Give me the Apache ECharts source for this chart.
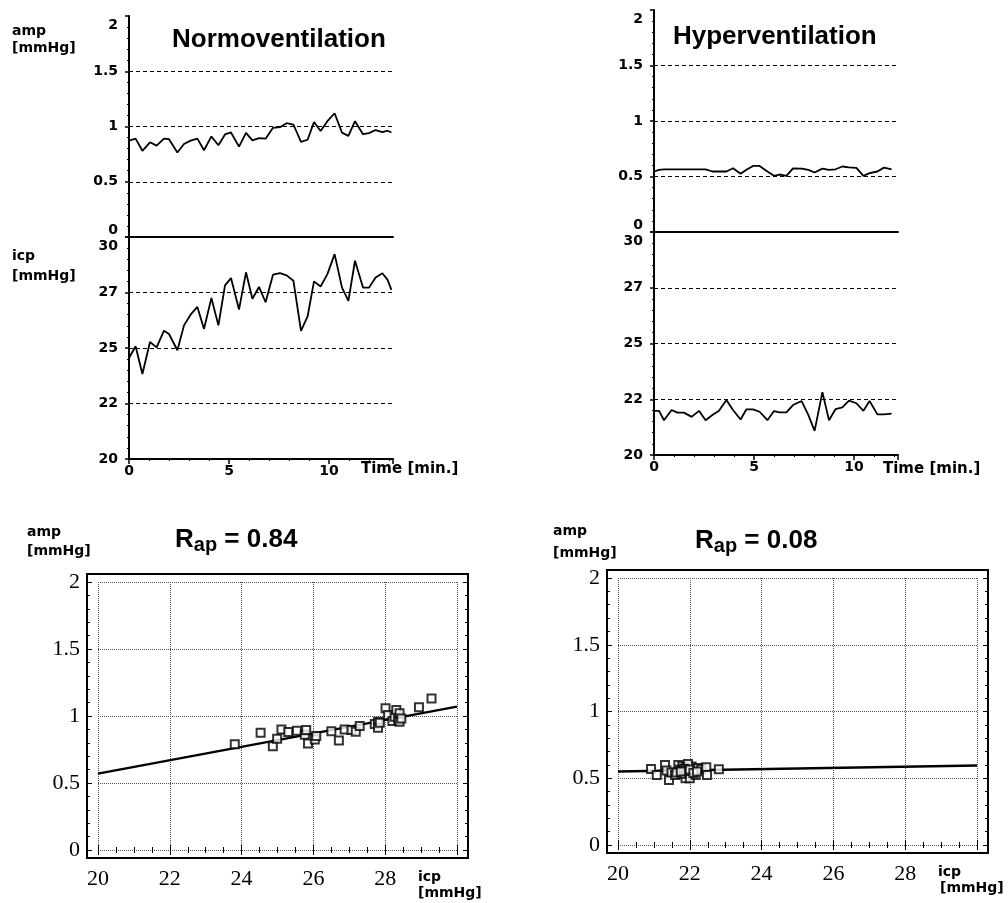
<!DOCTYPE html>
<html>
<head>
<meta charset="utf-8">
<script src="https://cdn.jsdelivr.net/npm/echarts@6/dist/echarts.min.js"></script>
<style>
  html, body { margin: 0; padding: 0; background: #fff; }
  #chart { width: 1008px; height: 903px; }
</style>
</head>
<body>
<div id="chart"></div>
<script>
// traces (time in min.)
const normoTime = [0, 0.33, 0.67, 1.05, 1.38, 1.75, 2.0, 2.42, 2.75, 3.08, 3.42, 3.75, 4.12, 4.47, 4.8, 5.1, 5.5, 5.85, 6.17, 6.5,
  6.83, 7.2, 7.55, 7.88, 8.22, 8.6, 8.93, 9.25, 9.58, 9.92, 10.28, 10.65, 10.97, 11.3, 11.7, 12.0, 12.33, 12.67, 12.93, 13.12];
const normoAmp = [0.872, 0.89, 0.78, 0.857, 0.827, 0.89, 0.885, 0.765, 0.842, 0.872, 0.89, 0.785, 0.91, 0.83, 0.928, 0.946, 0.818, 0.942, 0.875, 0.895,
  0.89, 0.988, 0.994, 1.03, 1.018, 0.86, 0.88, 1.04, 0.96, 1.048, 1.12, 0.945, 0.915, 1.048, 0.93, 0.94, 0.968, 0.95, 0.962, 0.946];
const normoIcp = [24.55, 25.08, 23.83, 25.27, 25.03, 25.78, 25.63, 24.9, 26.02, 26.5, 26.85, 25.86, 27.25, 26.02, 27.82, 28.15, 26.73, 28.41, 27.22, 27.75,
  27.06, 28.3, 28.37, 28.27, 28.03, 25.77, 26.42, 28.0, 27.77, 28.33, 29.23, 27.72, 27.12, 28.93, 27.72, 27.72, 28.18, 28.37, 28.07, 27.62];

const hyperTime = [0, 0.25, 0.5, 0.88, 1.17, 1.5, 1.88, 2.25, 2.58, 2.92, 3.25, 3.62, 3.95, 4.33, 4.62, 4.95, 5.28, 5.67, 6.0, 6.28,
  6.62, 6.95, 7.38, 7.72, 8.03, 8.42, 8.75, 9.08, 9.42, 9.75, 10.12, 10.47, 10.78, 11.17, 11.5, 11.88];
const hyperAmp = [0.545, 0.56, 0.565, 0.565, 0.565, 0.565, 0.565, 0.565, 0.565, 0.545, 0.545, 0.545, 0.574, 0.524, 0.56, 0.595, 0.595, 0.545, 0.506, 0.518,
  0.506, 0.574, 0.571, 0.56, 0.536, 0.571, 0.56, 0.565, 0.59, 0.583, 0.577, 0.506, 0.53, 0.545, 0.58, 0.565];
const hyperIcp = [21.98, 21.98, 21.56, 22.02, 21.9, 21.9, 21.71, 21.98, 21.56, 21.79, 21.98, 22.47, 22.02, 21.59, 22.05, 22.05, 21.94, 21.56, 21.97, 21.91,
  21.91, 22.24, 22.42, 21.79, 21.08, 22.82, 21.56, 22.06, 22.14, 22.44, 22.32, 21.98, 22.42, 21.82, 21.82, 21.86];

// amp vs icp scatter
const normoScatterIcp = [23.81, 24.53, 24.87, 24.99, 25.11, 25.30, 25.54, 25.76, 25.80, 25.85, 26.04, 26.08, 26.50, 26.71, 26.87, 27.06, 27.18,
  27.29, 27.71, 27.80, 27.80, 27.85, 28.01, 28.08, 28.20, 28.26, 28.31, 28.36, 28.40, 28.40, 28.45, 28.94, 29.29];
const normoScatterAmp = [0.79, 0.875, 0.775, 0.83, 0.90, 0.88, 0.89, 0.86, 0.895, 0.795, 0.825, 0.85, 0.887, 0.817, 0.90, 0.895, 0.883,
  0.925, 0.94, 0.957, 0.912, 0.95, 1.057, 1.007, 0.962, 0.995, 1.045, 0.97, 0.957, 1.02, 0.982, 1.065, 1.13];
const hyperScatterIcp = [20.92, 21.08, 21.31, 21.35, 21.42, 21.49, 21.59, 21.68, 21.72, 21.79, 21.83, 21.88, 21.91, 21.95, 22.0, 22.05, 22.09,
  22.16, 22.23, 22.32, 22.46, 22.48, 22.81, 21.77, 21.63, 21.95, 21.82, 21.85, 21.9, 22.0, 21.75, 22.1, 22.2];
const hyperScatterAmp = [0.57, 0.525, 0.60, 0.558, 0.487, 0.543, 0.525, 0.60, 0.563, 0.588, 0.55, 0.50, 0.576, 0.538, 0.50, 0.588, 0.558,
  0.525, 0.576, 0.568, 0.583, 0.525, 0.568, 0.533, 0.543, 0.606, 0.568, 0.57, 0.555, 0.565, 0.55, 0.54, 0.55];

// regression lines
const fitIcp = [20, 30];
const normoFitAmp = [0.57, 1.07];
const hyperFitAmp = [0.55, 0.595];

// tick labels
const timeTickLabels = ['0', '5', '10'];
const ampTickLabels = ['0', '0.5', '1', '1.5', '2'];
const icpTickLabels = ['20', '22', '25', '27', '30'];
const scatterIcpLabels = ['20', '22', '24', '26', '28'];

const zip = (xs, ys) => xs.map((x, i) => [x, ys[i]]);

const labelFont = { fontFamily: 'DejaVu Sans', fontWeight: 'bold', fontSize: 14, color: '#000' };
const shiftRich = {
  up: { ...labelFont, padding: [0, 0, 14, 0] },
  dn: { ...labelFont, padding: [18, 0, 0, 0] },
};

function timeAxis(gridIndex, max, withLabels) {
  return {
    type: 'value', gridIndex, min: 0, max, interval: 5,
    axisLine: { show: true, onZero: false, lineStyle: { color: '#000', width: 2 } },
    axisTick: { show: withLabels, length: 5, lineStyle: { color: '#000', width: 1.5 } },
    minorTick: { show: withLabels, splitNumber: 5, length: 2, lineStyle: { color: '#000' } },
    splitLine: { show: false },
    axisLabel: {
      show: withLabels, margin: 5, ...labelFont, showMinLabel: true, showMaxLabel: true,
      formatter: (v, i) => timeTickLabels[i] || '',
    },
  };
}

function valueAxis(gridIndex, min, max, interval, labels) {
  return {
    type: 'value', gridIndex, min, max, interval,
    axisLine: { show: true, onZero: false, lineStyle: { color: '#000', width: 2 } },
    axisTick: { show: true, length: 4, lineStyle: { color: '#000', width: 1.5 } },
    minorTick: { show: true, splitNumber: 5, length: 2, lineStyle: { color: '#000' } },
    splitLine: { show: true, showMinLine: false, showMaxLine: false, lineStyle: { color: '#000', type: [4, 3], width: 1 } },
    axisLabel: {
      margin: 11, ...labelFont, showMinLabel: true, showMaxLabel: true,
      formatter: (v, i) => {
        if (labels === ampTickLabels && i === 0) return '{up|' + labels[i] + '}';
        if (i === labels.length - 1) return '{dn|' + labels[i] + '}';
        return labels[i];
      },
      rich: shiftRich,
    },
  };
}

function scatterX(gridIndex, position, withLabels) {
  return {
    type: 'value', gridIndex, position, offset: 8, min: 20, max: 30, interval: 2,
    axisLine: { show: false },
    axisTick: { show: true, inside: true, length: 5, lineStyle: { color: '#000' } },
    minorTick: { show: true, splitNumber: 4, length: 3, lineStyle: { color: '#000' } },
    splitLine: { show: withLabels, lineStyle: { color: '#555', type: 'dotted', width: 1 } },
    axisLabel: {
      show: withLabels, margin: 10, fontFamily: 'Liberation Serif', fontSize: 22, color: '#000',
      showMinLabel: true, showMaxLabel: true, formatter: (v, i) => scatterIcpLabels[i] || '',
    },
  };
}

function scatterY(gridIndex, position, withLabels) {
  return {
    type: 'value', gridIndex, position, offset: 11, min: 0, max: 2, interval: 0.5,
    axisLine: { show: false },
    axisTick: { show: true, inside: true, length: 5, lineStyle: { color: '#000' } },
    minorTick: { show: true, splitNumber: 5, length: 3, lineStyle: { color: '#000' } },
    splitLine: { show: withLabels, lineStyle: { color: '#555', type: 'dotted', width: 1 } },
    axisLabel: {
      show: withLabels, margin: 7, fontFamily: 'Liberation Serif', fontSize: 22, color: '#000',
      showMinLabel: true, showMaxLabel: true, formatter: (v, i) => ampTickLabels[i],
    },
  };
}

const hidden = (gridIndex) => ({ type: 'value', gridIndex, show: false });

function text(x, y, str, font) {
  return { type: 'text', x, y, style: { text: str, fill: '#000', verticalAlign: 'middle', ...font } };
}
const small = { fontFamily: 'DejaVu Sans', fontWeight: 'bold', fontSize: 14 };
const title = { fontFamily: 'Liberation Sans', fontWeight: 'bold', fontSize: 26 };
function rLabel(x, y, value) {
  return {
    type: 'text', x, y,
    style: {
      text: '{r|R}{s|ap}{r| = ' + value + '}', fill: '#000', verticalAlign: 'middle',
      rich: {
        r: { ...title, lineHeight: 30 },
        s: { fontFamily: 'Liberation Sans', fontWeight: 'bold', fontSize: 20, lineHeight: 20, verticalAlign: 'bottom' },
      },
    },
  };
}

const grids = [
  { left: 129, top: 16, width: 264, height: 221 },   // normo amp
  { left: 129, top: 237, width: 264, height: 222 },  // normo icp
  { left: 654, top: 10, width: 244, height: 222 },   // hyper amp
  { left: 654, top: 232, width: 244, height: 223 },  // hyper icp
  { left: 87, top: 574, width: 381, height: 284, show: true, borderColor: '#000', borderWidth: 2 },
  { left: 98, top: 582, width: 359, height: 268 },
  { left: 607, top: 570, width: 381, height: 283, show: true, borderColor: '#000', borderWidth: 2 },
  { left: 618, top: 578, width: 359, height: 267 },
].map(g => ({ containLabel: false, outerBoundsMode: 'none', backgroundColor: 'transparent', ...g }));

const lineStyle = { color: '#000', width: 1.8 };
const trace = (xi, yi, xs, ys) => ({
  type: 'line', xAxisIndex: xi, yAxisIndex: yi, data: zip(xs, ys),
  showSymbol: false, symbol: 'none', lineStyle, silent: true,
});
const fit = (xi, yi, ys) => ({
  type: 'line', xAxisIndex: xi, yAxisIndex: yi, data: zip(fitIcp, ys),
  showSymbol: false, symbol: 'none', lineStyle: { color: '#000', width: 2.5 }, z: 3,
});
const points = (xi, yi, xs, ys) => ({
  type: 'scatter', xAxisIndex: xi, yAxisIndex: yi, data: zip(xs, ys),
  symbol: 'emptyRect', symbolSize: 8, itemStyle: { color: '#000', borderColor: '#000', borderWidth: 1 }, z: 4,
});

const option = {
  animation: false,
  backgroundColor: '#fff',
  grid: grids,
  xAxis: [
    timeAxis(0, 13.2, false),
    timeAxis(1, 13.2, true),
    timeAxis(2, 12.2, false),
    timeAxis(3, 12.2, true),
    hidden(4),
    scatterX(5, 'bottom', true),
    scatterX(5, 'top', false),
    hidden(6),
    scatterX(7, 'bottom', true),
    scatterX(7, 'top', false),
  ],
  yAxis: [
    valueAxis(0, 0, 2, 0.5, ampTickLabels),
    valueAxis(1, 20, 30, 2.5, icpTickLabels),
    valueAxis(2, 0, 2, 0.5, ampTickLabels),
    valueAxis(3, 20, 30, 2.5, icpTickLabels),
    hidden(4),
    scatterY(5, 'left', true),
    scatterY(5, 'right', false),
    hidden(6),
    scatterY(7, 'left', true),
    scatterY(7, 'right', false),
  ],
  series: [
    trace(0, 0, normoTime, normoAmp),
    trace(1, 1, normoTime, normoIcp),
    trace(2, 2, hyperTime, hyperAmp),
    trace(3, 3, hyperTime, hyperIcp),
    fit(5, 5, normoFitAmp),
    points(5, 5, normoScatterIcp, normoScatterAmp),
    fit(8, 8, hyperFitAmp),
    points(8, 8, hyperScatterIcp, hyperScatterAmp),
  ],
  graphic: [
    text(172, 40, 'Normoventilation', title),
    text(673, 37, 'Hyperventilation', title),
    text(12, 31, 'amp', small),
    text(12, 48, '[mmHg]', small),
    text(12, 256, 'icp', small),
    text(12, 276, '[mmHg]', small),
    text(361, 469, 'Time [min.]', { ...small, fontSize: 15 }),
    text(883, 469, 'Time [min.]', { ...small, fontSize: 15 }),
    rLabel(175, 540, '0.84'),
    rLabel(695, 541, '0.08'),
    text(27, 532, 'amp', small),
    text(27, 551, '[mmHg]', small),
    text(553, 531, 'amp', small),
    text(553, 553, '[mmHg]', small),
    text(418, 877, 'icp', small),
    text(418, 893, '[mmHg]', small),
    text(938, 872, 'icp', small),
    text(940, 888, '[mmHg]', small),
  ],
};

const chart = echarts.init(document.getElementById('chart'), null, { renderer: 'canvas' });
chart.setOption(option);
</script>
</body>
</html>
